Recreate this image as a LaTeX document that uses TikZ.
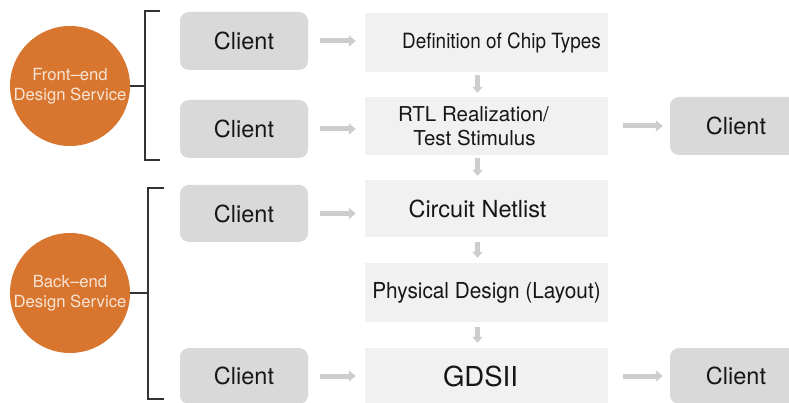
\documentclass[tikz,border=0pt]{standalone}
\usepackage{fontspec}
\setmainfont{TeX Gyre Heros}
\usetikzlibrary{arrows.meta}
\definecolor{orng}{HTML}{D8762F}
\definecolor{clientgray}{HTML}{D9D9D9}
\definecolor{stepgray}{HTML}{F1F1F1}
\definecolor{arrowgray}{HTML}{CDCDCD}
\definecolor{circtext}{HTML}{F7E4D4}
\definecolor{txt}{HTML}{161616}
\begin{document}
\begin{tikzpicture}[x=1pt,y=-1pt,
  clientbox/.style={fill=clientgray, rounded corners=9pt, minimum width=128pt, minimum height=58pt, inner sep=0pt, text=txt, font=\fontsize{23.5}{26}\selectfont},
  stepbox/.style={fill=stepgray, minimum width=243pt, minimum height=58pt, inner sep=0pt, align=center, text=txt},
  circ/.style={circle, fill=orng, minimum size=120pt, inner sep=0pt, text=circtext, align=center, font=\fontsize{16.7}{20}\selectfont},
  harrow/.style={draw=arrowgray, line width=5pt, -{Triangle[width=11pt,length=7pt]}},
  varrow/.style={draw=arrowgray, line width=5pt, -{Triangle[width=10pt,length=6pt]}},
  brk/.style={draw=black!80, line width=1.2pt}
]
\useasboundingbox (0,0) rectangle (789,403);
\fill[white] (0,0) rectangle (789,403);

% circles
\node[circ] (fe) at (70,86) {Front–end\\Design Service};
\node[circ] (be) at (70,293) {Back–end\\Design Service};

% brackets
\coordinate (b1t) at (145,11);
\coordinate (b1b) at (145,160);
\coordinate (b2t) at (148,188);
\coordinate (b2b) at (148,399);
\draw[brk] ([xshift=15pt]b1t) -- (b1t) -- (b1b) -- ([xshift=15pt]b1b);
\draw[brk] ([xshift=16pt]b2t) -- (b2t) -- (b2b) -- ([xshift=16pt]b2b);
\draw[brk] (fe.east) -- (fe.east -| b1t);
\draw[brk] (be.east) -- (be.east -| b2t);

% left clients
\node[clientbox] (c1) at (244,41) {Client};
\node[clientbox] (c2) at (244,129) {Client};
\node[clientbox, minimum height=57pt] (c3) at (244,213.5) {Client};
\node[clientbox, minimum height=56pt] (c5) at (244,376) {Client};

% steps
\node[stepbox, minimum height=59pt, font=\fontsize{21}{24}\selectfont] (m1) at (486.5,42.5) {\hspace*{30pt}\scalebox{0.9}[1]{Definition of Chip Types}};
\node[stepbox, font=\fontsize{20.5}{24}\selectfont] (m2) at (486.5,126) {RTL Realization/\hspace*{26pt}\\Test Stimulus\hspace*{24pt}};
\node[stepbox, minimum height=57pt, font=\fontsize{23.5}{26}\selectfont] (m3) at (486.5,208.5) {Circuit Netlist\hspace*{18pt}};
\node[stepbox, minimum height=59pt, font=\fontsize{22}{24}\selectfont] (m4) at (486.5,292.5) {\scalebox{0.945}[1]{Physical Design (Layout)}};
\node[stepbox, minimum height=56pt, font=\fontsize{27.5}{30}\selectfont] (m5) at (486.5,376) {GDSII\hspace*{12pt}};

% right clients
\node[clientbox, minimum width=132pt] (r2) at (736,126) {Client};
\node[clientbox, minimum width=132pt, minimum height=56pt] (r5) at (736,376) {Client};

% horizontal arrows
\draw[harrow, shorten <=12pt, shorten >=9pt] (c1.east) -- (c1.east -| m1.west);
\draw[harrow, shorten <=12pt, shorten >=9pt] (c2.east) -- (c2.east -| m2.west);
\draw[harrow, shorten <=12pt, shorten >=9pt] (c3.east) -- (c3.east -| m3.west);
\draw[harrow, shorten <=12pt, shorten >=9pt] (c5.east) -- (c5.east -| m5.west);
\draw[harrow, shorten <=15pt, shorten >=7pt] (m2.east) -- (m2.east -| r2.west);
\draw[harrow, shorten <=15pt, shorten >=7pt] (m5.east) -- (m5.east -| r5.west);

% vertical arrows
\draw[varrow, shorten <=3pt, shorten >=4pt] ([xshift=-9pt]m1.south) -- ([xshift=-9pt]m2.north);
\draw[varrow, shorten <=3pt, shorten >=4pt] ([xshift=-9pt]m2.south) -- ([xshift=-9pt]m3.north);
\draw[varrow, shorten <=5pt, shorten >=5pt] ([xshift=-9pt]m3.south) -- ([xshift=-9pt]m4.north);
\draw[varrow, shorten <=5pt, shorten >=5pt] ([xshift=-9pt]m4.south) -- ([xshift=-9pt]m5.north);
\end{tikzpicture}
\end{document}
